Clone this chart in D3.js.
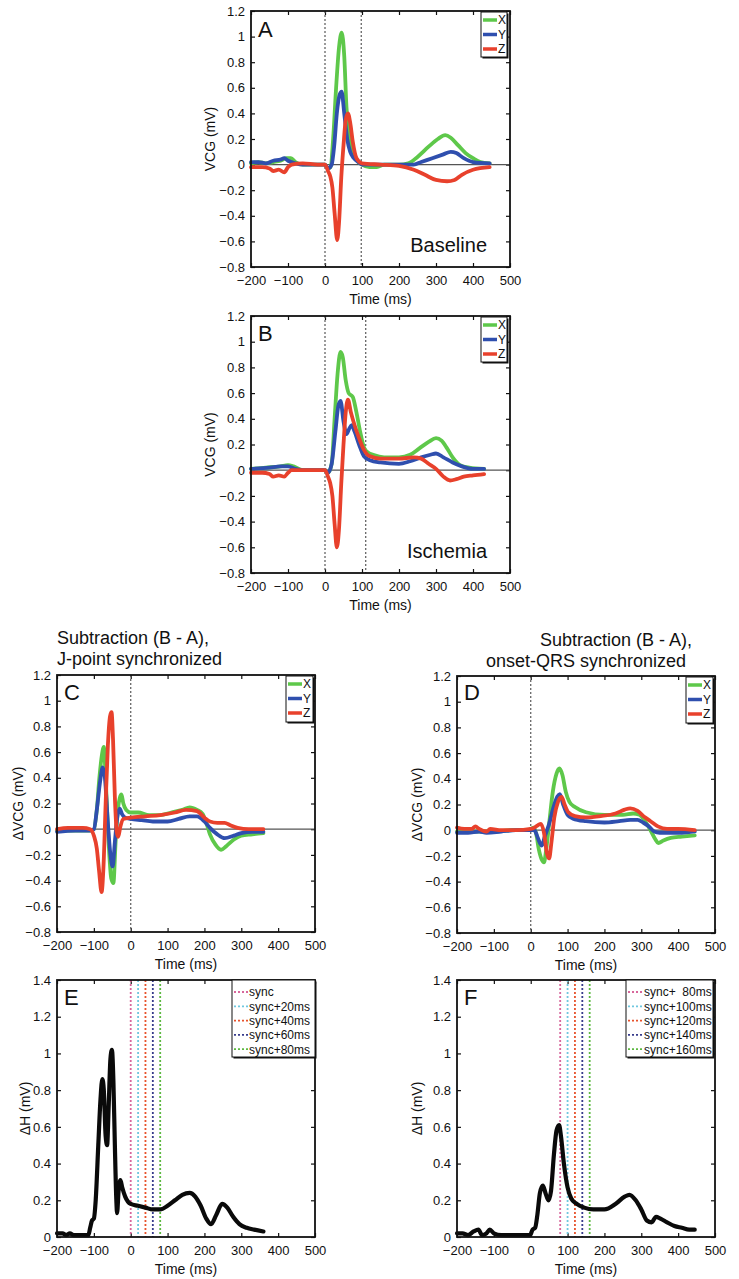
<!DOCTYPE html>
<html>
<head>
<meta charset="utf-8">
<script src="https://cdn.jsdelivr.net/npm/d3@7"></script>
<style>
  body { margin: 0; background: #fff; }
  svg { display: block; font-family: "Liberation Sans", Arial, Helvetica, sans-serif; }
</style>
</head>
<body>
<svg id="fig" width="739" height="1279"></svg>
<script>
// ---- data: [time ms, mV] ----
const timeTicks = [-200, -100, 0, 100, 200, 300, 400, 500];
const vcgTicks = [-0.8, -0.6, -0.4, -0.2, 0, 0.2, 0.4, 0.6, 0.8, 1, 1.2];
const hTicks = [0, 0.2, 0.4, 0.6, 0.8, 1, 1.2, 1.4];

const aX = [[-200,0.01],[-180,0.02],[-160,0.01],[-140,0.02],[-120,0.03],[-105,0.05],[-92,0.05],[-80,0.02],[-60,0],[-20,0],[0,0],[8,-0.03],[15,-0.02],[22,0.2],[30,0.6],[38,0.92],[45,1.03],[52,0.85],[58,0.45],[65,0.22],[72,0.12],[80,0.06],[90,0.02],[100,0],[120,-0.02],[140,-0.02],[160,0],[200,0],[225,0.01],[250,0.06],[280,0.14],[305,0.2],[325,0.23],[340,0.21],[360,0.15],[380,0.09],[400,0.05],[420,0.02],[445,0.01]];
const aY = [[-200,0.02],[-180,0.02],[-160,0.01],[-140,0.03],[-120,0.04],[-110,0.05],[-100,0.03],[-80,0.01],[-60,0],[0,0],[8,-0.03],[18,0],[25,0.15],[32,0.4],[40,0.55],[45,0.57],[52,0.4],[60,0.2],[68,0.1],[78,0.05],[90,0.02],[100,0],[200,0],[240,0],[260,0.02],[290,0.05],[320,0.08],[340,0.1],[355,0.09],[375,0.05],[400,0.02],[445,0.01]];
const aZ = [[-200,-0.02],[-170,-0.02],[-150,-0.03],[-140,-0.05],[-125,-0.04],[-110,-0.06],[-100,-0.02],[-90,0],[-60,0.01],[-20,0],[0,0],[8,-0.05],[14,-0.09],[20,-0.18],[26,-0.38],[33,-0.59],[38,-0.45],[44,-0.1],[50,0.15],[56,0.35],[62,0.4],[68,0.33],[75,0.18],[85,0.05],[100,0.01],[150,0],[200,-0.01],[240,-0.04],[270,-0.08],[300,-0.12],[330,-0.13],[350,-0.12],[370,-0.08],[400,-0.04],[445,-0.02]];

const bX = [[-200,0.01],[-160,0.02],[-120,0.03],[-100,0.04],[-85,0.03],[-60,0],[0,0],[8,-0.02],[18,0.05],[26,0.4],[34,0.75],[42,0.92],[48,0.88],[56,0.7],[64,0.6],[75,0.57],[85,0.45],[95,0.3],[105,0.18],[115,0.14],[130,0.12],[160,0.1],[200,0.1],[230,0.12],[255,0.17],[280,0.22],[300,0.25],[315,0.23],[330,0.17],[345,0.1],[365,0.04],[390,0.02],[430,0.01]];
const bY = [[-200,0.01],[-150,0.02],[-120,0.03],[-100,0.03],[-80,0.01],[-60,0],[0,0],[8,-0.02],[18,0.05],[28,0.3],[36,0.5],[42,0.54],[50,0.38],[58,0.28],[65,0.32],[72,0.35],[80,0.3],[92,0.2],[105,0.11],[120,0.08],[150,0.06],[200,0.05],[230,0.07],[260,0.1],[285,0.12],[300,0.13],[320,0.1],[345,0.06],[370,0.03],[400,0.01],[430,0.01]];
const bZ = [[-200,-0.02],[-170,-0.02],[-150,-0.03],[-140,-0.05],[-125,-0.04],[-110,-0.05],[-100,-0.02],[-90,0],[-60,0],[0,0],[8,-0.05],[14,-0.1],[20,-0.2],[26,-0.42],[32,-0.6],[38,-0.45],[44,-0.1],[50,0.2],[56,0.45],[62,0.55],[70,0.45],[80,0.35],[92,0.25],[105,0.16],[120,0.11],[150,0.09],[200,0.09],[240,0.1],[260,0.09],[280,0.05],[300,0.01],[320,-0.05],[338,-0.08],[355,-0.07],[375,-0.05],[400,-0.04],[430,-0.03]];

const cX = [[-200,-0.01],[-150,-0.01],[-110,-0.01],[-100,0],[-92,0.15],[-85,0.4],[-78,0.58],[-73,0.64],[-68,0.4],[-60,-0.1],[-53,-0.38],[-47,-0.42],[-41,-0.1],[-35,0.15],[-30,0.24],[-25,0.27],[-20,0.2],[-12,0.15],[0,0.13],[20,0.13],[50,0.11],[80,0.11],[110,0.13],[140,0.15],[160,0.17],[180,0.15],[195,0.12],[205,0.05],[215,-0.04],[230,-0.12],[245,-0.16],[260,-0.13],[280,-0.08],[300,-0.05],[330,-0.04],[360,-0.03]];
const cY = [[-200,-0.02],[-150,-0.01],[-110,-0.01],[-100,0],[-92,0.15],[-84,0.35],[-76,0.48],[-70,0.4],[-62,0.05],[-55,-0.2],[-49,-0.29],[-43,-0.1],[-37,0.08],[-30,0.16],[-24,0.12],[-15,0.09],[0,0.08],[30,0.07],[60,0.06],[100,0.06],[130,0.08],[160,0.1],[180,0.1],[200,0.06],[215,0.01],[235,-0.04],[255,-0.07],[280,-0.05],[300,-0.03],[330,-0.02],[360,-0.02]];
const cZ = [[-200,0],[-170,0.01],[-130,0.01],[-110,0],[-100,-0.05],[-92,-0.15],[-86,-0.32],[-79,-0.49],[-74,-0.3],[-68,0.2],[-62,0.65],[-56,0.88],[-52,0.91],[-48,0.7],[-43,0.25],[-38,-0.02],[-34,-0.06],[-28,0.02],[-20,0.08],[0,0.09],[40,0.1],[80,0.11],[120,0.13],[150,0.15],[180,0.14],[200,0.09],[215,0.06],[235,0.05],[255,0.05],[270,0.03],[290,0.01],[320,0],[360,0]];

const dX = [[-200,-0.01],[-150,-0.01],[-100,-0.01],[-50,0],[-10,0],[0,0.01],[8,0.02],[15,-0.03],[22,-0.15],[30,-0.23],[36,-0.25],[42,-0.15],[50,0.05],[60,0.3],[70,0.44],[78,0.48],[86,0.43],[95,0.3],[105,0.22],[120,0.18],[150,0.14],[200,0.12],[250,0.12],[278,0.13],[295,0.12],[310,0.07],[325,0],[338,-0.07],[346,-0.1],[360,-0.08],[380,-0.06],[410,-0.05],[445,-0.04]];
const dY = [[-200,-0.02],[-170,-0.02],[-140,-0.01],[-120,-0.02],[-80,-0.01],[-40,0],[0,0],[10,0],[18,-0.05],[25,-0.1],[30,-0.12],[38,-0.05],[50,0.05],[62,0.18],[72,0.26],[79,0.28],[88,0.2],[100,0.12],[115,0.09],[150,0.07],[200,0.06],[240,0.07],[270,0.08],[290,0.08],[305,0.06],[320,0.03],[335,-0.01],[350,-0.02],[380,-0.02],[410,-0.02],[445,-0.01]];
const dZ = [[-200,0.02],[-180,0.01],[-160,0.01],[-150,0.03],[-140,0.01],[-120,-0.01],[-110,0.01],[-80,0],[-40,0],[0,0.01],[10,0.02],[20,0.04],[28,0.05],[36,-0.02],[44,-0.18],[50,-0.22],[56,-0.1],[64,0.1],[74,0.22],[84,0.26],[92,0.2],[102,0.14],[120,0.11],[150,0.1],[190,0.11],[230,0.13],[255,0.16],[270,0.17],[290,0.15],[310,0.1],[325,0.07],[345,0.03],[370,0.01],[400,0.01],[445,0]];

const eH = [[-200,0.02],[-185,0.02],[-175,0.01],[-165,0.02],[-155,0.01],[-130,0.01],[-115,0.01],[-110,0.05],[-105,0.09],[-100,0.1],[-95,0.2],[-88,0.5],[-82,0.75],[-77,0.86],[-73,0.8],[-68,0.55],[-64,0.5],[-60,0.7],[-55,0.97],[-51,1.02],[-47,0.85],[-43,0.5],[-39,0.2],[-37,0.13],[-33,0.25],[-28,0.31],[-23,0.27],[-15,0.22],[0,0.18],[20,0.17],[40,0.16],[60,0.15],[80,0.15],[100,0.17],[120,0.2],[140,0.23],[160,0.24],[175,0.22],[190,0.17],[205,0.1],[218,0.07],[232,0.12],[248,0.18],[262,0.16],[278,0.11],[295,0.07],[315,0.05],[335,0.04],[360,0.03]];
const fH = [[-200,0.02],[-185,0.02],[-170,0.01],[-155,0.03],[-142,0.04],[-132,0.01],[-120,0.02],[-111,0.04],[-100,0.02],[-80,0.01],[-50,0.01],[-20,0.01],[-2,0.01],[5,0.04],[12,0.05],[18,0.12],[25,0.24],[33,0.28],[40,0.24],[48,0.2],[55,0.25],[63,0.45],[70,0.58],[77,0.61],[82,0.55],[90,0.4],[100,0.27],[110,0.21],[125,0.18],[145,0.16],[170,0.15],[200,0.15],[230,0.18],[255,0.22],[268,0.23],[285,0.2],[300,0.15],[315,0.09],[328,0.08],[340,0.11],[352,0.1],[370,0.08],[390,0.06],[410,0.05],[430,0.04],[445,0.04]];

const markersA = [0, 98];
const markersB = [0, 110];
const markersC = [0];
const markersD = [0];
const syncE = [0, 20, 40, 60, 80];
const syncF = [80, 100, 120, 140, 160];
const syncLabelsE = ["sync", "sync+20ms", "sync+40ms", "sync+60ms", "sync+80ms"];
const syncLabelsF = ["sync+  80ms", "sync+100ms", "sync+120ms", "sync+140ms", "sync+160ms"];

const xyzNames = ["X", "Y", "Z"];
const xyzColors = ["#5ec84a", "#2f4fae", "#e8412c"];
const syncColors = ["#d8679c", "#6fc8df", "#e8532c", "#383c8c", "#5db941"];

const svg = d3.select("#fig");
const minus = s => s.replace("-", "\u2212");

function panel(o) {
  const g = svg.append("g").attr("transform", `translate(${o.left},${o.top})`);
  const x = d3.scaleLinear().domain([-200, 500]).range([0, o.w]);
  const y = d3.scaleLinear().domain(d3.extent(o.yTicks)).range([o.h, 0]);
  const yFmt = d => minus(String(+d.toFixed(1)));

  g.append("g").attr("transform", `translate(0,${o.h})`)
    .call(d3.axisBottom(x).tickValues(timeTicks).tickSizeInner(-4).tickSizeOuter(0).tickPadding(9).tickFormat(d => minus(String(d))));
  g.append("g")
    .call(d3.axisTop(x).tickValues(timeTicks).tickSizeInner(-4).tickSizeOuter(0).tickFormat(""));
  g.append("g")
    .call(d3.axisLeft(y).tickValues(o.yTicks).tickSizeInner(-4).tickSizeOuter(0).tickPadding(6).tickFormat(yFmt));
  g.append("g").attr("transform", `translate(${o.w},0)`)
    .call(d3.axisRight(y).tickValues(o.yTicks).tickSizeInner(-4).tickSizeOuter(0).tickFormat(""));
  g.selectAll(".domain").remove();
  g.selectAll(".tick line").attr("stroke", "#111").attr("stroke-width", 1.2);
  g.selectAll(".tick text").attr("font-size", 13).attr("fill", "#111")
    .attr("font-family", "'Liberation Sans', Arial, sans-serif");

  if (o.zeroLine) {
    g.append("line").attr("x1", 0).attr("x2", o.w).attr("y1", y(0)).attr("y2", y(0))
      .attr("stroke", "#555").attr("stroke-width", 1.2);
  }

  (o.markers || []).forEach((t, i) => {
    g.append("line").attr("x1", x(t)).attr("x2", x(t)).attr("y1", 0).attr("y2", o.h)
      .attr("stroke", o.markerColors ? o.markerColors[i] : "#666")
      .attr("stroke-width", o.markerColors ? 1.8 : 1.3)
      .attr("stroke-dasharray", "2,2");
  });

  const line = d3.line().x(d => x(d[0])).y(d => y(d[1])).curve(d3.curveMonotoneX);
  o.series.forEach(s => {
    g.append("path").datum(s.data).attr("d", line)
      .attr("fill", "none").attr("stroke", s.color).attr("stroke-width", s.width)
      .attr("stroke-linejoin", "round").attr("stroke-linecap", "round");
  });

  g.append("rect").attr("width", o.w).attr("height", o.h)
    .attr("fill", "none").attr("stroke", "#111").attr("stroke-width", 1.8);

  g.append("text").attr("x", 7).attr("y", o.letterY).attr("font-size", 22).attr("fill", "#111").text(o.letter);

  if (o.note) {
    g.append("text").attr("x", o.w - 23).attr("y", o.h - 15).attr("text-anchor", "end")
      .attr("font-size", 20).attr("fill", "#111").text(o.note);
  }

  g.append("text").attr("x", o.w / 2).attr("y", o.h + 37).attr("text-anchor", "middle")
    .attr("font-size", 14).attr("fill", "#111").text("Time (ms)");
  g.append("text").attr("transform", `translate(${-o.ylabelOff},${o.h / 2}) rotate(-90)`)
    .attr("text-anchor", "middle").attr("dy", "0.35em").attr("font-size", 14).attr("fill", "#111")
    .text(o.ylabel);

  // legend
  const L = o.legend;
  const lg = g.append("g").attr("transform", `translate(${o.w - L.right - L.w},${L.top})`);
  lg.append("rect").attr("x", 1.5).attr("y", 1.5).attr("width", L.w).attr("height", L.h).attr("fill", "#111");
  lg.append("rect").attr("width", L.w).attr("height", L.h).attr("fill", "#fff").attr("stroke", "#111").attr("stroke-width", 1);
  L.items.forEach((it, i) => {
    const yy = L.y0 + i * L.dy;
    lg.append("line").attr("x1", 2).attr("x2", L.lineLen).attr("y1", yy).attr("y2", yy)
      .attr("stroke", it.color).attr("stroke-width", it.dash ? 1.8 : 3.5)
      .attr("stroke-dasharray", it.dash ? "2,2" : null);
    lg.append("text").attr("x", L.lineLen + 1).attr("y", yy).attr("dy", "0.36em")
      .attr("font-size", L.fs).attr("fill", "#111").style("white-space", "pre").text(it.label);
  });
}

function xyzSeries(xs) {
  return xs.map((d, i) => ({ data: d, color: xyzColors[i], width: 3.8 }));
}
const xyzLegend = { w: 26, h: 45, right: 3, top: 1, y0: 8, dy: 14.5, lineLen: 16, fs: 12,
  items: xyzNames.map((n, i) => ({ label: n, color: xyzColors[i] })) };

panel({ left: 251, top: 11, w: 259, h: 256, yTicks: vcgTicks, zeroLine: true, markers: markersA,
  series: xyzSeries([aX, aY, aZ]), letter: "A", letterY: 26, note: "Baseline",
  ylabel: "VCG (mV)", ylabelOff: 41, legend: xyzLegend });

panel({ left: 251, top: 316, w: 259, h: 257, yTicks: vcgTicks, zeroLine: true, markers: markersB,
  series: xyzSeries([bX, bY, bZ]), letter: "B", letterY: 25, note: "Ischemia",
  ylabel: "VCG (mV)", ylabelOff: 41, legend: xyzLegend });

panel({ left: 57, top: 675, w: 258, h: 257, yTicks: vcgTicks, zeroLine: true, markers: markersC,
  series: xyzSeries([cX, cY, cZ]), letter: "C", letterY: 25,
  ylabel: "\u0394VCG (mV)", ylabelOff: 39, legend: Object.assign({}, xyzLegend, { right: 2, w: 27, h: 46 }) });

panel({ left: 457, top: 676, w: 258, h: 257, yTicks: vcgTicks, zeroLine: true, markers: markersD,
  series: xyzSeries([dX, dY, dZ]), letter: "D", letterY: 24,
  ylabel: "\u0394VCG (mV)", ylabelOff: 40, legend: Object.assign({}, xyzLegend, { right: 2, w: 27, h: 46 }) });

panel({ left: 57, top: 980, w: 258, h: 257, yTicks: hTicks, markers: syncE, markerColors: syncColors,
  series: [{ data: eH, color: "#0a0a0a", width: 4.2 }], letter: "E", letterY: 25,
  ylabel: "\u0394H (mV)", ylabelOff: 32,
  legend: { w: 83, h: 77, right: 0, top: 0, y0: 12, dy: 14.3, lineLen: 16, fs: 12,
    items: syncLabelsE.map((n, i) => ({ label: n, color: syncColors[i], dash: true })) } });

panel({ left: 457, top: 980, w: 258, h: 257, yTicks: hTicks, markers: syncF, markerColors: syncColors,
  series: [{ data: fH, color: "#0a0a0a", width: 4.2 }], letter: "F", letterY: 25,
  ylabel: "\u0394H (mV)", ylabelOff: 40,
  legend: { w: 87, h: 77, right: 2, top: 0, y0: 12, dy: 14.3, lineLen: 17, fs: 12,
    items: syncLabelsF.map((n, i) => ({ label: n, color: syncColors[i], dash: true })) } });

// titles above C and D
const titleFs = 18;
svg.append("text").attr("x", 57).attr("y", 644).attr("font-size", titleFs).attr("fill", "#111").text("Subtraction (B - A),");
svg.append("text").attr("x", 57).attr("y", 665).attr("font-size", titleFs).attr("fill", "#111").text("J-point synchronized");
svg.append("text").attr("x", 692).attr("y", 646).attr("text-anchor", "end").attr("font-size", titleFs).attr("fill", "#111").text("Subtraction (B - A),");
svg.append("text").attr("x", 686).attr("y", 667).attr("text-anchor", "end").attr("font-size", titleFs).attr("fill", "#111").text("onset-QRS synchronized");
</script>
</body>
</html>
